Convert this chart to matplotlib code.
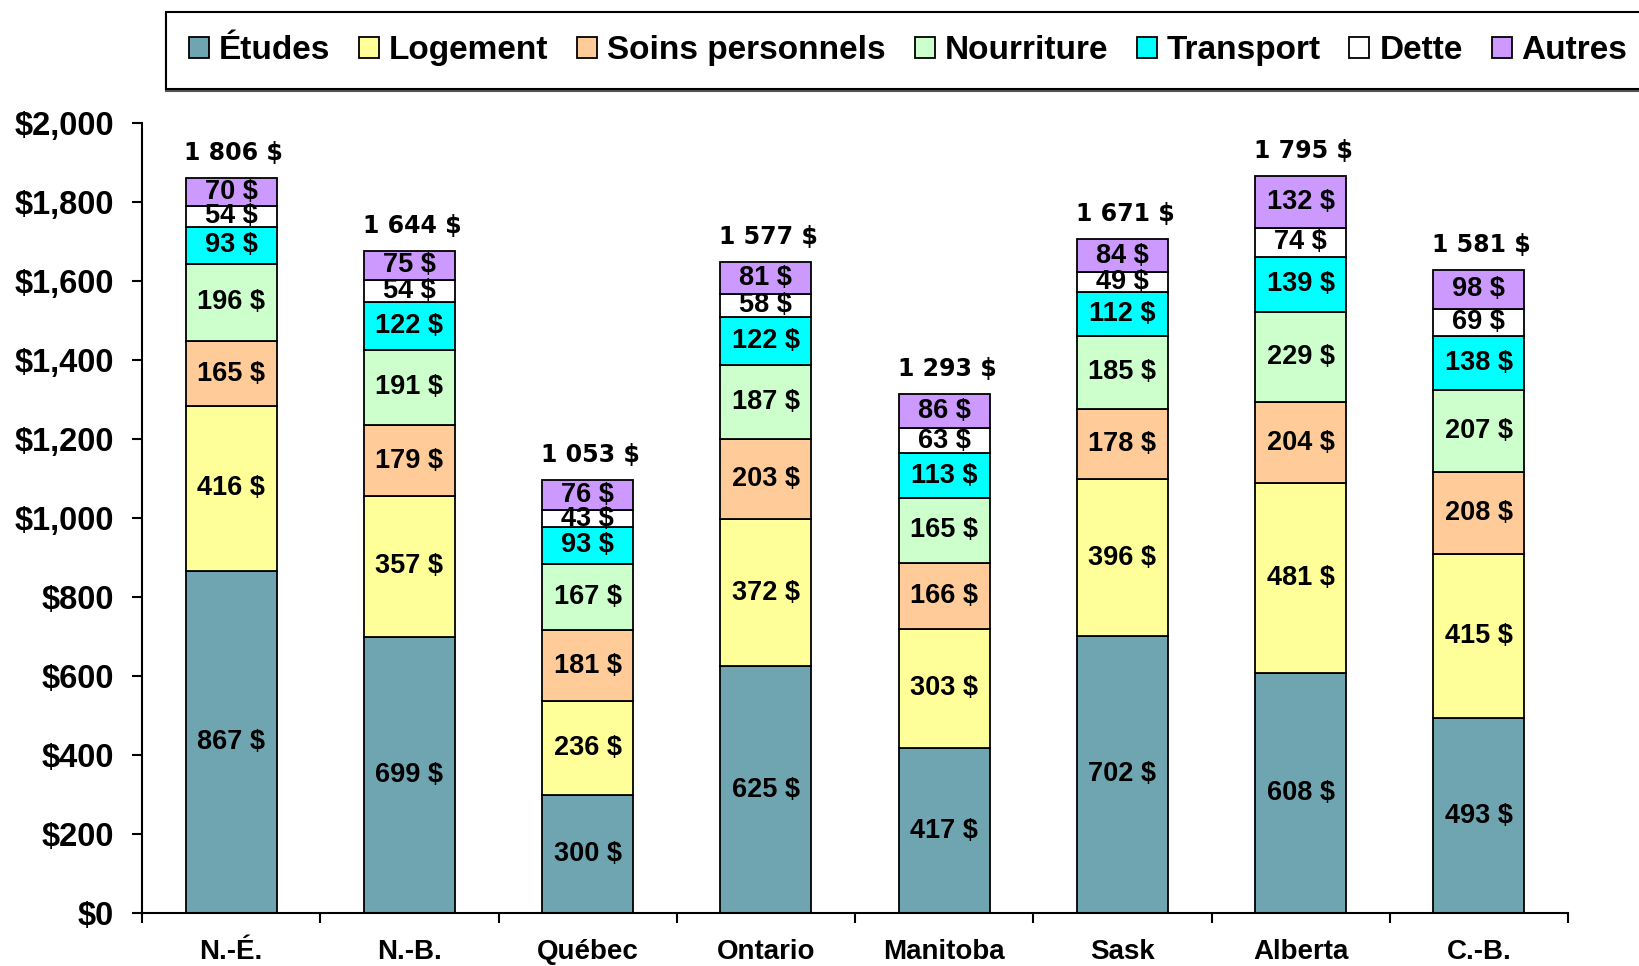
import matplotlib
matplotlib.use("Agg")
import matplotlib.pyplot as plt
import numpy as np
from matplotlib.patches import Patch

categories = ["N.-É.", "N.-B.", "Québec", "Ontario", "Manitoba", "Sask", "Alberta", "C.-B."]
series_names = ["Études", "Logement", "Soins personnels", "Nourriture", "Transport", "Dette", "Autres"]
etudes = [867, 699, 300, 625, 417, 702, 608, 493]
logement = [416, 357, 236, 372, 303, 396, 481, 415]
soins = [165, 179, 181, 203, 166, 178, 204, 208]
nourriture = [196, 191, 167, 187, 165, 185, 229, 207]
transport = [93, 122, 93, 122, 113, 112, 139, 138]
dette = [54, 54, 43, 58, 63, 49, 74, 69]
autres = [70, 75, 76, 81, 86, 84, 132, 98]
total_labels = ["1 806 $", "1 644 $", "1 053 $", "1 577 $", "1 293 $", "1 671 $", "1 795 $", "1 581 $"]
colors = ["#6FA5B1", "#FFFF99", "#FFCC99", "#CCFFCC", "#00FFFF", "#FFFFFF", "#CC99FF"]
yticks = [0, 200, 400, 600, 800, 1000, 1200, 1400, 1600, 1800, 2000]

series = [etudes, logement, soins, nourriture, transport, dette, autres]

W, H = 1639, 966
fig = plt.figure(figsize=(W / 100, H / 100), dpi=100)
ax = fig.add_axes([142 / W, 1 - 913 / H, (1568 - 142) / W, (913 - 123) / H])

lab_font = "Liberation Sans"
x = np.arange(len(categories))
bottom = np.zeros(len(categories))
for vals, col, name in zip(series, colors, series_names):
    v = np.array(vals, dtype=float)
    ax.bar(x, v, width=0.51, bottom=bottom, color=col, edgecolor="black",
           linewidth=1.3, label=name, zorder=2)
    for xi, b, vi in zip(x, bottom, v):
        ax.text(xi, b + vi / 2, f"{int(vi)} $", ha="center", va="center",
                fontsize=19.5, fontweight="bold", family=lab_font, zorder=3)
    bottom += v

for xi, top, lab in zip(x, bottom, total_labels):
    ax.annotate(lab, (xi, top), xytext=(2, 18), textcoords="offset points",
                ha="center", va="center", fontsize=17, fontweight="bold",
                family="DejaVu Sans")

ax.set_xlim(-0.5, len(categories) - 0.5)
ax.set_ylim(0, 2000)
ax.set_yticks(yticks)
ax.set_yticklabels([f"${v:,}" for v in yticks], fontsize=23.5, fontweight="bold",
                   family="Liberation Sans")
ax.tick_params(axis="y", direction="out", length=7, width=1.5, pad=13)

ax.set_xticks(np.arange(len(categories) + 1) - 0.5)
ax.set_xticklabels([])
ax.tick_params(axis="x", which="major", direction="out", length=7, width=1.5)
ax.set_xticks(x, minor=True)
ax.set_xticklabels(categories, minor=True, fontsize=20, fontweight="bold",
                   family="Liberation Sans")
ax.tick_params(axis="x", which="minor", length=0, pad=19)

for s in ["top", "right"]:
    ax.spines[s].set_visible(False)
for s in ["left", "bottom"]:
    ax.spines[s].set_linewidth(1.5)

handles = [Patch(facecolor=c, edgecolor="black", linewidth=1.3) for c in colors]
leg = fig.legend(handles, series_names, loc="upper left",
                 bbox_to_anchor=(166 / W, 1 - 12 / H), ncol=7,
                 prop={"family": "Liberation Sans", "weight": "bold", "size": 24},
                 handlelength=0.6, handleheight=0.6, handletextpad=0.3,
                 columnspacing=0.86, borderpad=0.69, frameon=True, fancybox=False,
                 borderaxespad=0,
                 shadow={"ox": 0, "oy": -1.5, "color": "#555555", "alpha": 1.0})
leg.get_frame().set_edgecolor("black")
leg.get_frame().set_linewidth(1.5)

fig.savefig("out.png", dpi=100)
